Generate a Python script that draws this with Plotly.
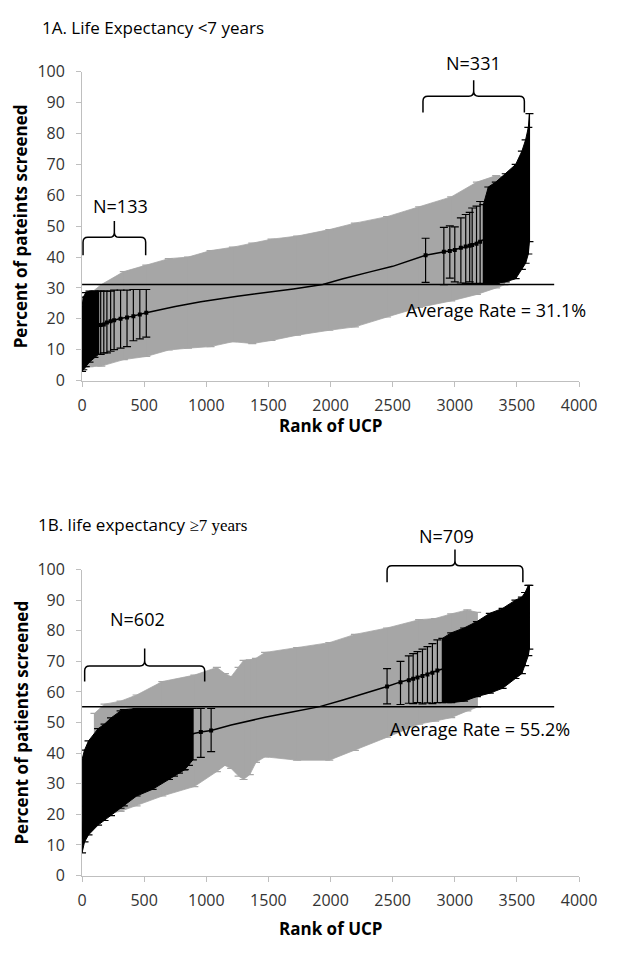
import plotly.graph_objects as go

# ---------------- Panel A data (Life expectancy <7 years) ----------------
avg_a = 31.1
# grey envelope (non-significant UCPs) : rank, upper CI, lower CI
gray_rank_a = [0, 60, 155, 336, 517, 698, 853, 1034, 1214, 1370, 1525, 1731, 1990, 2196, 2455, 2713, 2971, 3178, 3333, 3400]
gray_hi_a = [25, 28, 31.1, 35.3, 37.4, 39.5, 40.0, 42.1, 43.2, 44.5, 45.8, 46.8, 48.9, 51.0, 53.1, 56.3, 59.5, 64.3, 66.4, 66.0]
gray_lo_a = [4.0, 4.5, 4.7, 6.8, 7.8, 9.9, 10.5, 11.0, 12.6, 12.0, 13.0, 14.7, 16.3, 17.4, 20.6, 23.7, 25.8, 27.9, 30.0, 31.0]
# dense black block, low performers
blk_left_rank_a = [0, 10, 30, 60, 100, 133]
blk_left_hi_a = [24, 27, 28.5, 29, 29, 29]
blk_left_lo_a = [3.0, 3.5, 4.5, 6.0, 7.5, 8.5]
# dense black block, high performers
blk_right_rank_a = [3230, 3270, 3330, 3410, 3490, 3540, 3570, 3592, 3601]
blk_right_hi_a = [57.0, 62.7, 64.3, 67.0, 70.0, 74.3, 78.0, 82.0, 86.5]
blk_right_lo_a = [31.5, 31.5, 31.5, 32.0, 33.0, 36.0, 38.0, 41.0, 45.0]
# individual significant UCPs drawn among the grey ones
sig_rank_a = [150, 175, 200, 230, 258, 310, 362, 413, 465, 517,
              2765, 2912, 2960, 3000, 3049, 3088, 3120, 3140, 3175, 3204]
sig_mid_a = [18.0, 18.2, 18.8, 19.2, 19.5, 20.0, 20.4, 20.8, 21.4, 22.0,
             40.6, 41.7, 42.0, 42.3, 43.0, 43.4, 43.7, 43.9, 44.3, 45.0]
sig_hi_a = [29.0, 29.0, 29.0, 29.0, 29.3, 29.3, 29.3, 29.5, 29.5, 29.5,
            46.1, 49.6, 50.1, 49.8, 52.7, 53.8, 54.5, 55.9, 56.5, 58.0]
sig_lo_a = [8.5, 9.0, 9.0, 9.5, 10.0, 10.5, 11.0, 12.9, 13.5, 14.1,
            31.8, 31.1, 33.2, 32.0, 31.6, 31.5, 32.0, 31.4, 31.5, 31.3]
# screening rate line
line_rank_a = [0, 5, 15, 30, 60, 100, 133, 200, 300, 400, 517, 750, 956, 1250, 1473, 1700, 1938, 2100,
               2326, 2500, 2765, 2950, 3127, 3250, 3350, 3450, 3520, 3570, 3600]
line_rate_a = [5, 8, 11, 13.5, 15.5, 17, 17.8, 18.8, 20, 20.8, 22, 24, 25.5, 27.3, 28.4, 29.7, 31.1, 33,
               35.3, 37, 40.6, 42, 43.7, 46, 48.5, 52, 56, 62, 70]

# ---------------- Panel B data (Life expectancy >=7 years) ----------------
avg_b = 55.2
gray_rank_b = [100, 181, 310, 439, 646, 904, 1085, 1150, 1200, 1260, 1300, 1350, 1400, 1473, 1731, 1990, 2196, 2455, 2713, 2842, 2971, 3101, 3180]
gray_hi_b = [53.0, 56.0, 57.0, 59.0, 63.4, 65.5, 68.0, 66.0, 65.0, 68.0, 70.3, 70.5, 71.0, 72.9, 74.5, 76.1, 78.8, 80.9, 83.6, 84.0, 85.5, 86.8, 86.0]
gray_lo_b = [18.0, 20.0, 21.0, 22.8, 26.0, 29.1, 34.0, 36.0, 35.0, 32.5, 31.4, 33.0, 37.0, 38.8, 37.7, 37.7, 40.9, 45.2, 49.5, 50.5, 51.6, 53.8, 55.0]
blk_left_rank_b = [0, 20, 52, 129, 181, 233, 310, 336, 439, 568, 698, 827, 892]
blk_left_hi_b = [38.0, 41.0, 44.0, 48.0, 49.5, 51.5, 53.8, 54.2, 54.6, 54.6, 54.6, 54.6, 54.6]
blk_left_lo_b = [7.4, 11.0, 13.3, 16.5, 18.0, 19.6, 22.0, 22.8, 26.0, 28.2, 31.4, 34.6, 37.8]
blk_right_rank_b = [2900, 2971, 3075, 3178, 3282, 3385, 3488, 3540, 3566, 3592, 3600]
blk_right_hi_b = [77.5, 79.3, 80.9, 83.0, 85.7, 87.3, 90.0, 91.0, 92.5, 94.8, 94.8]
blk_right_lo_b = [56.5, 56.5, 57.0, 58.5, 59.6, 61.2, 64.4, 66.0, 68.6, 71.9, 74.0]
sig_rank_b = [700, 740, 780, 820, 860, 956, 1039,
              2455, 2563, 2630, 2665, 2700, 2740, 2780, 2820, 2860]
sig_mid_b = [44.5, 44.8, 45.2, 45.6, 46.0, 46.9, 47.4,
             61.8, 63.2, 63.8, 64.3, 64.7, 65.2, 65.7, 66.3, 67.0]
sig_hi_b = [54.6, 54.6, 54.6, 54.6, 54.6, 54.6, 54.6,
            67.6, 70.0, 71.8, 72.5, 73.2, 74.0, 74.8, 75.8, 77.0]
sig_lo_b = [31.4, 32.5, 33.5, 34.5, 36.0, 38.6, 40.5,
            56.1, 55.9, 56.3, 56.2, 56.5, 56.1, 56.4, 56.2, 56.5]
line_rank_b = [0, 10, 25, 50, 100, 200, 300, 439, 568, 700, 827, 956, 1039, 1200, 1473, 1700, 1913, 2100,
               2300, 2455, 2558, 2713, 2900, 3100, 3300, 3450, 3550, 3600]
line_rate_b = [12, 17, 21, 25, 30, 35, 38, 41.5, 43, 44.5, 45.8, 46.9, 47.4, 49.2, 51.7, 53.5, 55.2, 57.4,
               59.8, 61.8, 63.2, 65, 67.5, 70.5, 74, 77.5, 81, 86]

# brackets: (start rank, end rank, end level, flat level, tip level, label, label rank, label level)
brackets_a = [(8, 512, 40.6, 46.4, 51.7, "N=133", 310, 56.4),
              (2744, 3560, 86.8, 92.1, 97.3, "N=331", 3152, 102.8)]
brackets_b = [(21, 987, 63.4, 68.5, 74.2, "N=602", 450, 83.8),
              (2455, 3548, 95.8, 101.2, 106.5, "N=709", 2930, 111.0)]
avg_label_a = (3333, 22.7, "Average Rate = 31.1%")
avg_label_b = (3202, 47.9, "Average Rate = 55.2%")

# ---------------- layout geometry ----------------
W, H = 624, 954
XDOM = [80 / W, 596 / W]
YDOM_A = [1 - 378.3 / H, 1 - 62.3 / H]
YDOM_B = [1 - 885 / H, 1 - 571.7 / H]
XMAX, YMAX = 4000, 100

GRAY = "#a6a6a6"
FONT = "Open Sans, Lato, sans-serif"

fig = go.Figure()


def add_panel(xa, ya, gr, gh, gl, blocks, sr, sm, sh, sl, lr, lv, avg):
    # grey envelope of error bars
    fig.add_trace(go.Scatter(x=gr + gr[::-1], y=gh + gl[::-1], fill="toself",
                             fillcolor=GRAY, line=dict(width=0.8, color=GRAY),
                             mode="lines", xaxis=xa, yaxis=ya, hoverinfo="skip"))
    gm = [(h + l) / 2 for h, l in zip(gh, gl)]
    fig.add_trace(go.Scatter(x=gr, y=gm, mode="markers", marker=dict(size=1, color=GRAY),
                             error_y=dict(type="data", symmetric=False,
                                          array=[h - m for h, m in zip(gh, gm)],
                                          arrayminus=[m - l for m, l in zip(gm, gl)],
                                          color=GRAY, thickness=1.2, width=4),
                             xaxis=xa, yaxis=ya, hoverinfo="skip"))
    for br, bh, bl in blocks:
        fig.add_trace(go.Scatter(x=br + br[::-1], y=bh + bl[::-1], fill="toself",
                                 fillcolor="black", line=dict(width=1, color="black"),
                                 mode="lines", xaxis=xa, yaxis=ya, hoverinfo="skip"))
        mids = [(h + l) / 2 for h, l in zip(bh, bl)]
        fig.add_trace(go.Scatter(x=br, y=mids, mode="markers",
                                 marker=dict(size=1, color="black"),
                                 error_y=dict(type="data", symmetric=False,
                                              array=[h - m for h, m in zip(bh, mids)],
                                              arrayminus=[m - l for m, l in zip(mids, bl)],
                                              color="black", thickness=1.2, width=4),
                                 xaxis=xa, yaxis=ya, hoverinfo="skip"))
    # individual significant UCPs
    fig.add_trace(go.Scatter(x=sr, y=sm, mode="markers",
                             marker=dict(size=4, color="black", symbol="square"),
                             error_y=dict(type="data", symmetric=False,
                                          array=[h - m for h, m in zip(sh, sm)],
                                          arrayminus=[m - l for m, l in zip(sm, sl)],
                                          color="black", thickness=1.2, width=4),
                             xaxis=xa, yaxis=ya, hoverinfo="skip"))
    # rate line
    fig.add_trace(go.Scatter(x=lr, y=lv, mode="lines", line=dict(color="black", width=1.5),
                             xaxis=xa, yaxis=ya, hoverinfo="skip"))
    # average line
    fig.add_trace(go.Scatter(x=[0, 3800], y=[avg, avg], mode="lines",
                             line=dict(color="black", width=1.5),
                             xaxis=xa, yaxis=ya, hoverinfo="skip"))


add_panel("x", "y", gray_rank_a, gray_hi_a, gray_lo_a,
          [(blk_left_rank_a, blk_left_hi_a, blk_left_lo_a),
           (blk_right_rank_a, blk_right_hi_a, blk_right_lo_a)],
          sig_rank_a, sig_mid_a, sig_hi_a, sig_lo_a, line_rank_a, line_rate_a, avg_a)
add_panel("x2", "y2", gray_rank_b, gray_hi_b, gray_lo_b,
          [(blk_left_rank_b, blk_left_hi_b, blk_left_lo_b),
           (blk_right_rank_b, blk_right_hi_b, blk_right_lo_b)],
          sig_rank_b, sig_mid_b, sig_hi_b, sig_lo_b, line_rank_b, line_rate_b, avg_b)

axis_common = dict(showgrid=False, zeroline=False, showline=True, linecolor="#bfbfbf",
                   linewidth=1, ticks="outside", ticklen=5, tickcolor="#bfbfbf",
                   tickfont=dict(family=FONT, size=16, color="#333333"))
fig.update_layout(
    width=W, height=H, margin=dict(l=0, r=0, t=0, b=0),
    paper_bgcolor="white", plot_bgcolor="white", showlegend=False,
    xaxis=dict(domain=XDOM, range=[0, XMAX], dtick=500, anchor="y", ticklabelstandoff=5, **axis_common),
    yaxis=dict(domain=YDOM_A, range=[0, YMAX], dtick=10, anchor="x", ticklabelstandoff=8, **axis_common),
    xaxis2=dict(domain=XDOM, range=[0, XMAX], dtick=500, anchor="y2", ticklabelstandoff=5, **axis_common),
    yaxis2=dict(domain=YDOM_B, range=[0, YMAX], dtick=10, anchor="x2", ticklabelstandoff=8, **axis_common),
)


def to_paper(xv, yv, ydom):
    px = XDOM[0] + xv / XMAX * (XDOM[1] - XDOM[0])
    py = ydom[0] + yv / YMAX * (ydom[1] - ydom[0])
    return px, py


shapes = []
annotations = []
for brs, ydom in [(brackets_a, YDOM_A), (brackets_b, YDOM_B)]:
    for (x0, x1, yend, yflat, ytip, label, xlab, ylab) in brs:
        xm = (x0 + x1) / 2
        a0 = to_paper(x0, yend, ydom)
        f0 = to_paper(x0, yflat, ydom)
        f1 = to_paper(x1, yflat, ydom)
        a1 = to_paper(x1, yend, ydom)
        mf = to_paper(xm, yflat, ydom)
        mt = to_paper(xm, ytip, ydom)
        dx = 5 / W
        dy = 5 / H
        path = (f"M {a0[0]},{a0[1]} L {f0[0]},{f0[1]-dy} Q {f0[0]},{f0[1]} {f0[0]+dx},{f0[1]} "
                f"L {mf[0]-dx},{mf[1]} Q {mf[0]},{mf[1]} {mf[0]},{mf[1]+dy} L {mt[0]},{mt[1]} "
                f"M {mf[0]},{mf[1]+dy} Q {mf[0]},{mf[1]} {mf[0]+dx},{mf[1]} "
                f"L {f1[0]-dx},{f1[1]} Q {f1[0]},{f1[1]} {f1[0]},{f1[1]-dy} L {a1[0]},{a1[1]}")
        shapes.append(dict(type="path", path=path, xref="paper", yref="paper",
                           line=dict(color="black", width=1.5)))
        lx, ly = to_paper(xlab, ylab, ydom)
        annotations.append(dict(x=lx, y=ly, xref="paper", yref="paper", text=label, showarrow=False,
                                font=dict(family=FONT, size=18, color="black"),
                                xanchor="center", yanchor="middle"))

for (ax, ay, at), ydom in [(avg_label_a, YDOM_A), (avg_label_b, YDOM_B)]:
    lx, ly = to_paper(ax, ay, ydom)
    annotations.append(dict(x=lx, y=ly, xref="paper", yref="paper", text=at, showarrow=False,
                            font=dict(family=FONT, size=18, color="black"),
                            xanchor="center", yanchor="middle"))

annotations += [
    dict(x=36 / W, y=1 - 16.7 / H, xref="paper", yref="paper", text="1A. Life Expectancy &lt;7 years",
         showarrow=False, font=dict(family=FONT, size=17, color="black"), xanchor="left", yanchor="middle"),
    dict(x=32.7 / W, y=1 - 526 / H, xref="paper", yref="paper",
         text='1B. life expectancy <span style="font-family:Liberation Serif">\u22657 years</span>',
         showarrow=False, font=dict(family=FONT, size=17, color="black"), xanchor="left", yanchor="middle"),
    dict(x=17 / W, y=1 - 220 / H, xref="paper", yref="paper", text="<b>Percent of pateints screened</b>",
         textangle=-90, showarrow=False, font=dict(family=FONT, size=17, color="black"),
         xanchor="center", yanchor="middle"),
    dict(x=17 / W, y=1 - 728 / H, xref="paper", yref="paper", text="<b>Percent of patients screened</b>",
         textangle=-90, showarrow=False, font=dict(family=FONT, size=17, color="black"),
         xanchor="center", yanchor="middle"),
    dict(x=338 / W, y=1 - 424 / H, xref="paper", yref="paper", text="<b>Rank of UCP</b>",
         showarrow=False, font=dict(family=FONT, size=17, color="black"), xanchor="center", yanchor="middle"),
    dict(x=338 / W, y=1 - 939 / H, xref="paper", yref="paper", text="<b>Rank of UCP</b>",
         showarrow=False, font=dict(family=FONT, size=17, color="black"), xanchor="center", yanchor="middle"),
]
fig.update_layout(shapes=shapes, annotations=annotations)

fig.write_html("out.html", config={"displayModeBar": False},
               post_script="document.body.style.margin='0';document.body.style.padding='0';")
